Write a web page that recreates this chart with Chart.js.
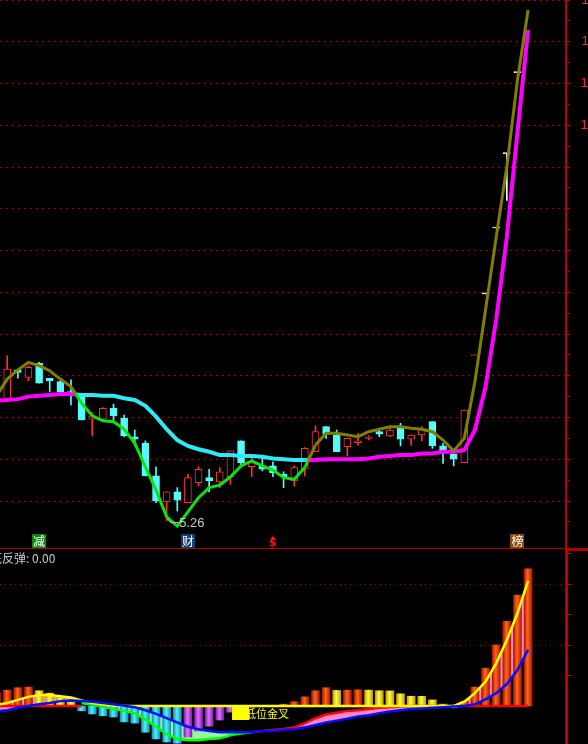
<!DOCTYPE html>
<html><head><meta charset="utf-8">
<script src="https://cdn.jsdelivr.net/npm/chart.js@4/dist/chart.umd.min.js"></script>
<style>
html,body{margin:0;padding:0;background:#000;overflow:hidden}
#wrap{position:relative;width:588px;height:744px;background:#000}
canvas{position:absolute;left:0;display:block}
#c1{top:0}
#c2{top:548px}
</style></head><body>
<div id="wrap">
<canvas id="c1" width="588" height="548"></canvas>
<canvas id="c2" width="588" height="196"></canvas>
</div>
<script>
// ---------------- DATA (index 0 = partially hidden day at the left edge) ----------------
const open  = [6.72, 6.73,7.07,6.98,7.15,6.97,6.93,6.81,6.78,6.48,6.48, 6.61,6.49,6.27,6.19,5.80,5.49,5.61,5.48,5.72,5.78, 5.73,5.79,6.22,5.91,5.92,5.92,5.82,5.74,5.88,6.09, 6.39,6.29,6.15,6.20,6.25,6.33,6.28,6.37,6.24,6.29, 6.45,6.16,6.06,5.96,7.24,7.98,8.77,9.66,10.63,11.69];
const high  = [6.80, 7.24,7.07,7.12,7.16,6.97,6.94,6.95,6.79,6.56,6.62, 6.66,6.53,6.35,6.22,5.91,5.61,5.66,5.82,5.91,5.88, 5.90,6.10,6.22,6.02,6.03,5.97,5.85,5.92,6.14,6.40, 6.39,6.35,6.25,6.31,6.28,6.35,6.40,6.43,6.29,6.39, 6.45,6.19,6.11,6.59,7.25,7.98,8.77,9.66,10.63,11.69];
const low   = [6.66, 6.73,6.97,6.94,6.91,6.81,6.79,6.65,6.47,6.28,6.47, 6.46,6.27,6.16,5.80,5.48,5.26,5.38,5.48,5.68,5.61, 5.66,5.70,5.92,5.79,5.86,5.79,5.66,5.68,5.80,6.09, 6.25,6.09,6.04,6.17,6.23,6.27,6.27,6.16,6.17,6.22, 6.13,5.95,5.92,5.96,7.24,7.98,8.77,9.10,10.63,11.69];
const close = [6.76, 7.08,7.04,7.10,6.91,6.94,6.81,6.78,6.47,6.52,6.61, 6.52,6.28,6.24,5.80,5.50,5.61,5.51,5.78,5.88,5.74, 5.85,6.10,5.96,5.96,5.88,5.84,5.79,5.90,6.13,6.33, 6.30,6.09,6.25,6.22,6.27,6.30,6.35,6.24,6.29,6.36, 6.16,6.09,6.00,6.59,7.25,7.98,8.77,9.66,10.63,11.69];
const shortLine = [6.76, 6.96,7.07,7.16,7.12,7.06,6.96,6.87,6.67,6.52,6.46, 6.45,6.36,6.19,5.91,5.63,5.31,5.20,5.37,5.54,5.66, 5.69,5.79,5.92,5.98,5.92,5.87,5.78,5.76,5.90,6.17, 6.31,6.31,6.29,6.27,6.33,6.36,6.39,6.39,6.37,6.36, 6.33,6.23,6.10,6.25,6.93,7.79,8.66,9.50,10.54,11.38];
const longLine  = [6.70, 6.71,6.72,6.75,6.76,6.77,6.78,6.78,6.77,6.77,6.76, 6.76,6.73,6.71,6.64,6.51,6.36,6.23,6.16,6.12,6.09, 6.05,6.05,6.04,6.04,6.03,6.01,6.00,5.99,5.99,5.99, 6.00,6.00,6.00,6.00,6.01,6.03,6.04,6.05,6.05,6.07, 6.07,6.09,6.09,6.11,6.35,6.87,7.67,8.66,9.91,11.14];
const priceTicks = [5.5,6.0,6.5,7.0,7.5,8.0,8.5,9.0,9.5,10.0,10.5,11.0,11.5];

// lower indicator panel
const histValues = [0.22, 0.26,0.30,0.31,0.25,0.21,0.13,0.07,-0.08,-0.13,-0.16, -0.18,-0.26,-0.28,-0.43,-0.54,-0.59,-0.61,-0.51,-0.41,-0.33, -0.23,-0.10,-0.04,-0.02,-0.01,0.01,0.03,0.07,0.15,0.25, 0.30,0.255,0.26,0.265,0.26,0.25,0.248,0.20,0.16,0.158, 0.10,0.03,-0.03,0.08,0.31,0.62,1.00,1.39,1.82,2.25];
const yellowLine = [0.02, 0.05,0.10,0.15,0.18,0.18,0.16,0.14,0.09,0.05,0.03, 0.01,0, null,null,null,null,null,null,null,null, null,null,null,null,null,null,null,null,null,null, null,null,null,null,null,null,null,null,null,null, null,null,0,0.07,0.21,0.40,0.70,1.08,1.52,2.05];
const yellowZero = [null, null,null,null,null,null,null,null,null,null,null, null,0,0,0,0,0,0,0,0,0, 0,0,0,0,0,0,0,0,0,0, 0,0,0,0,0,0,0,0,0,0, 0,0,0,null,null,null,null,null,null,null];
const blueLine = [-0.09, -0.07,-0.03,0.0,0.03,0.05,0.08,0.09,0.08,0.07,0.05, 0.03,0.005,-0.02,-0.07,-0.13,-0.20,-0.27,-0.34,-0.38,-0.41, -0.43,-0.43,-0.43,-0.43,-0.41,-0.41,-0.39,-0.38,-0.35,-0.31, -0.27,-0.24,-0.21,-0.17,-0.15,-0.12,-0.09,-0.07,-0.05,-0.04, -0.03,-0.02,-0.01,0.0,0.03,0.11,0.21,0.36,0.59,0.92];
const redLine = [0, 0,0,0,0,0,0,0,0,null,null, null,null,null,null,null,null,null,null,null,null, null,null,null,-0.43,-0.41,-0.395,-0.375,-0.35,-0.28,-0.20, -0.14,-0.11,-0.08,-0.07,-0.05,-0.03,-0.02,-0.01,0,0, 0,0,0,0,0,0,0,0,0,0];
const greenLine = [null, null,null,null,null,null,null,null,0.05,0.02,-0.01, -0.05,-0.08,-0.12,-0.22,-0.34,-0.46,-0.54,-0.56,-0.56,-0.54, -0.53,-0.48,-0.45,-0.43,null,null,null,null,null,null, null,null,null,null,null,null,null,null,null,null, null,null,null,null,null,null,null,null,null,null];
const lowerTicks = [1, 2];

// signals
const markerIdx  = [4, 18, 26, 49];
const markerText = ['减', '财', '$', '榜'];
const panelTitle = '底反弹: 0.00';
const crossIdx = 23;
const crossText = '低位金叉';

// ---------------- STYLE ----------------
const UP = '#ff3232', DN = '#54fcfc', FLAT = '#ffffff';
const OLIVE = '#808000', LGREEN = '#10e010', MAGENTA = '#ff00ff', CYAN = '#30e8f8';
const AXIS = '#c00000', GRID = '#a80000', LABEL = '#ff2828';
const PINK = '#ff88c8', PALEGREEN = '#98f898';
const markerBg = ['#0a8a0a', '#123e70', null, '#8a4a0a'];
const XMIN = 1 - 7.2 / 10.63, XMAX = XMIN + 566 / 10.63;
const PMAX = 11.5, PMIN = 11.5 - 548 / 83.5;
const LMAX = 158 / 61, LMIN = -38 / 61;
const idx = open.map((_, i) => i);
const fixWidth = s => { s.width = 22; };
const kind = i => close[i] > open[i] ? 'up' : (close[i] < open[i] ? 'dn' : 'flat');
const kcol = i => ({up: UP, dn: DN, flat: FLAT})[kind(i)];

function crossSeg(a, b, colA, colB) {
  return c => {
    const i0 = c.p0DataIndex, i1 = c.p1DataIndex;
    const d0 = a[i0] - b[i0], d1 = a[i1] - b[i1];
    const c0 = d0 >= 0 ? colA : colB, c1 = d1 >= 0 ? colA : colB;
    if (c0 === c1) return c0;
    if (!c.p0 || !isFinite(c.p0.x) || !isFinite(c.p1.x)) return c1;
    const t = Math.min(1, Math.max(0, d0 / (d0 - d1)));
    const g = c.chart.ctx.createLinearGradient(c.p0.x, 0, c.p1.x, 0);
    g.addColorStop(0, c0); g.addColorStop(t, c0); g.addColorStop(t, c1); g.addColorStop(1, c1);
    return g;
  };
}

// ---------------- UPPER CHART ----------------
const allTicks = [];
for (let k = 0; k < priceTicks.length; k++) {
  if (k > 0) allTicks.push((priceTicks[k - 1] + priceTicks[k]) / 2);
  allTicks.push(priceTicks[k]);
}
allTicks.unshift(priceTicks[0] - 0.25);
const isMajor = v => priceTicks.some(p => Math.abs(p - v) < 1e-6);

const upperDeco = {
  id: 'upperDeco',
  afterDatasetsDraw(chart) {
    const ctx = chart.ctx, xs = chart.scales.x, ys = chart.scales.y;
    ctx.save();
    // price labels (right aligned, mostly beyond the window edge)
    ctx.font = '13px "Liberation Sans", Arial, sans-serif';
    ctx.fillStyle = LABEL; ctx.textAlign = 'right'; ctx.textBaseline = 'middle';
    const xr = 581.5 + ctx.measureText('11.50').width;
    priceTicks.forEach(p => ctx.fillText(p.toFixed(2), xr, ys.getPixelForValue(p)));
    // lowest low annotation
    let m = 1;
    for (let i = 1; i < low.length; i++) if (low[i] < low[m]) m = i;
    const lx = xs.getPixelForValue(m), ly = ys.getPixelForValue(low[m]);
    ctx.strokeStyle = '#b8b8b8'; ctx.lineWidth = 1;
    ctx.beginPath(); ctx.moveTo(lx + 1, ly - 2); ctx.lineTo(lx + 4, ly + 1.5); ctx.lineTo(lx + 12, ly + 1.5); ctx.stroke();
    ctx.fillStyle = '#c8c8c8'; ctx.font = '13px "Liberation Sans", Arial, sans-serif';
    ctx.textBaseline = 'middle'; ctx.textAlign = 'left';
    ctx.fillText(low[m].toFixed(2), lx + 12.5, ly + 2);
    // signal markers
    const my = 541;
    markerIdx.forEach((k, j) => {
      const x = xs.getPixelForValue(k);
      if (markerBg[j]) {
        ctx.fillStyle = markerBg[j];
        ctx.fillRect(Math.round(x - 7), my - 7, 14, 14);
        ctx.fillStyle = '#ffffff';
        ctx.font = '12px "Noto Sans CJK SC", sans-serif';
        ctx.textAlign = 'center'; ctx.textBaseline = 'middle';
        ctx.fillText(markerText[j], x, my + 0.5);
      } else {
        ctx.fillStyle = '#ff1010';
        ctx.beginPath(); ctx.moveTo(x, my - 5); ctx.lineTo(x - 2.5, my - 2); ctx.lineTo(x + 2.5, my - 2); ctx.closePath(); ctx.fill();
        ctx.font = 'bold 11px "DejaVu Sans", sans-serif';
        ctx.textAlign = 'center'; ctx.textBaseline = 'middle';
        ctx.fillText(markerText[j], x, my + 2.5);
      }
    });
    ctx.restore();
  }
};

new Chart(document.getElementById('c1'), {
  type: 'bar',
  data: {
    datasets: [
      { type: 'line', label: 'short', data: idx.map(i => ({x: i, y: shortLine[i]})), borderWidth: 3, pointRadius: 0,
        borderColor: OLIVE, segment: {borderColor: crossSeg(shortLine, longLine, OLIVE, LGREEN)}, order: 0 },
      { type: 'line', label: 'long', data: idx.map(i => ({x: i, y: longLine[i]})), borderWidth: 4, pointRadius: 0,
        borderColor: MAGENTA, segment: {borderColor: crossSeg(shortLine, longLine, MAGENTA, CYAN)}, order: 1 },
      { label: 'body', data: idx.map(i => ({x: i, y: [open[i], close[i]]})), grouped: false, barThickness: 7, minBarLength: 1,
        backgroundColor: idx.map(i => kind(i) === 'up' ? '#000000' : kcol(i)),
        borderColor: idx.map(kcol), borderWidth: 1, borderSkipped: false, order: 2 },
      { label: 'wick', data: idx.map(i => ({x: i, y: [low[i], high[i]]})), grouped: false, barThickness: 1,
        backgroundColor: idx.map(kcol), borderWidth: 0, order: 3 }
    ]
  },
  options: {
    responsive: false, animation: false, events: [],
    layout: {padding: 0},
    plugins: {legend: {display: false}, tooltip: {enabled: false}},
    scales: {
      x: {type: 'linear', min: XMIN, max: XMAX, display: false, offset: false},
      y: {
        position: 'right', min: PMIN, max: PMAX, afterFit: fixWidth,
        afterBuildTicks: s => { s.ticks = allTicks.map(v => ({value: v})); },
        grid: {color: c => (c.tick && isMajor(c.tick.value)) ? GRID : 'rgba(0,0,0,0)', tickColor: AXIS, tickLength: 4, lineWidth: 1},
        border: {color: AXIS, width: 2, dash: [2, 4]},
        ticks: {display: false}
      }
    }
  },
  plugins: [upperDeco]
});

// ---------------- LOWER CHART ----------------
const PAL = {
  up: ['#b01800', '#ff6818'], upWeak: ['#c8a000', '#ffff40'],
  dn: ['#1890b8', '#48f4ff'], dnWeak: ['#8020b0', '#e070ff']
};
function histColor(c) {
  if (c.dataIndex == null) return PAL.up[1];
  const i = c.dataIndex, v = histValues[i], p = i > 0 ? histValues[i - 1] : v - 1;
  const pal = v >= 0 ? (v >= p ? PAL.up : PAL.upWeak) : (v <= p ? PAL.dn : PAL.dnWeak);
  const xs = c.chart.scales && c.chart.scales.x;
  const px = xs ? xs.getPixelForValue(i) : NaN;
  if (!isFinite(px)) return pal[1];
  const g = c.chart.ctx.createLinearGradient(px - 4, 0, px + 4, 0);
  g.addColorStop(0, pal[0]); g.addColorStop(0.45, pal[1]); g.addColorStop(1, pal[0]);
  return g;
}
const BLUE_DS = 0;
const lowerDeco = {
  id: 'lowerDeco',
  afterDatasetsDraw(chart) {
    const ctx = chart.ctx, xs = chart.scales.x, ys = chart.scales.y;
    ctx.save();
    ctx.fillStyle = '#b00000';
    ctx.fillRect(0, 0, 588, 1);
    ctx.fillRect(567, 0, 21, 3);
    ctx.fillStyle = '#c8c8c8';
    ctx.font = '12px "Noto Sans CJK SC", sans-serif';
    ctx.textBaseline = 'middle'; ctx.textAlign = 'left';
    ctx.fillText(panelTitle, -10, 10);
    const bx = xs.getPixelForValue(crossIdx) - 9, by = ys.getPixelForValue(0);
    ctx.fillStyle = '#ffff00';
    ctx.font = '11px "Noto Sans CJK SC", sans-serif';
    ctx.fillText(crossText, bx + 13, by + 8);
    ctx.fillRect(bx, by + 1, 17, 13);
    ctx.restore();
  }
};
new Chart(document.getElementById('c2'), {
  type: 'bar',
  data: {
    datasets: [
      { type: 'line', label: 'blue', data: idx.map(i => ({x: i, y: blueLine[i]})), borderColor: '#0010ff', borderWidth: 2.5, pointRadius: 0, fill: false, order: 0 },
      { type: 'line', label: 'yellow', data: idx.map(i => ({x: i, y: yellowLine[i]})), borderColor: '#ffff00', borderWidth: 2.5, pointRadius: 0,
        fill: {target: BLUE_DS, above: PINK, below: 'rgba(0,0,0,0)'}, order: 1 },
      { type: 'line', label: 'yellowZero', data: idx.map(i => ({x: i, y: yellowZero[i]})), borderColor: '#ffff00', borderWidth: 2.5, pointRadius: 0, fill: false, order: 1 },
      { type: 'line', label: 'red', data: idx.map(i => ({x: i, y: redLine[i]})), borderColor: '#ff0000', borderWidth: 2.5, pointRadius: 0,
        fill: {target: BLUE_DS, above: PINK, below: 'rgba(0,0,0,0)'}, order: 1 },
      { type: 'line', label: 'green', data: idx.map(i => ({x: i, y: greenLine[i]})), borderColor: '#00ff00', borderWidth: 2.5, pointRadius: 0,
        fill: {target: BLUE_DS, above: 'rgba(0,0,0,0)', below: PALEGREEN}, order: 1 },
      { label: 'hist', data: idx.map(i => ({x: i, y: histValues[i]})), grouped: false, barThickness: 8,
        backgroundColor: histColor, borderWidth: 0, order: 3 }
    ]
  },
  options: {
    responsive: false, animation: false, events: [],
    layout: {padding: 0},
    plugins: {legend: {display: false}, tooltip: {enabled: false}, filler: {drawTime: 'beforeDatasetsDraw', propagate: false}},
    scales: {
      x: {type: 'linear', min: XMIN, max: XMAX, display: false, offset: false},
      y: {
        position: 'right', min: LMIN, max: LMAX, afterFit: fixWidth,
        afterBuildTicks: s => { s.ticks = [0.5, 1, 1.5, 2, 2.5].map(v => ({value: v})); },
        grid: {color: c => (c.tick && lowerTicks.includes(c.tick.value)) ? GRID : 'rgba(0,0,0,0)', tickColor: AXIS, tickLength: 5, lineWidth: 1},
        border: {color: AXIS, width: 3, dash: [1, 4]},
        ticks: {display: false}
      }
    }
  },
  plugins: [lowerDeco]
});
</script>
</body></html>
